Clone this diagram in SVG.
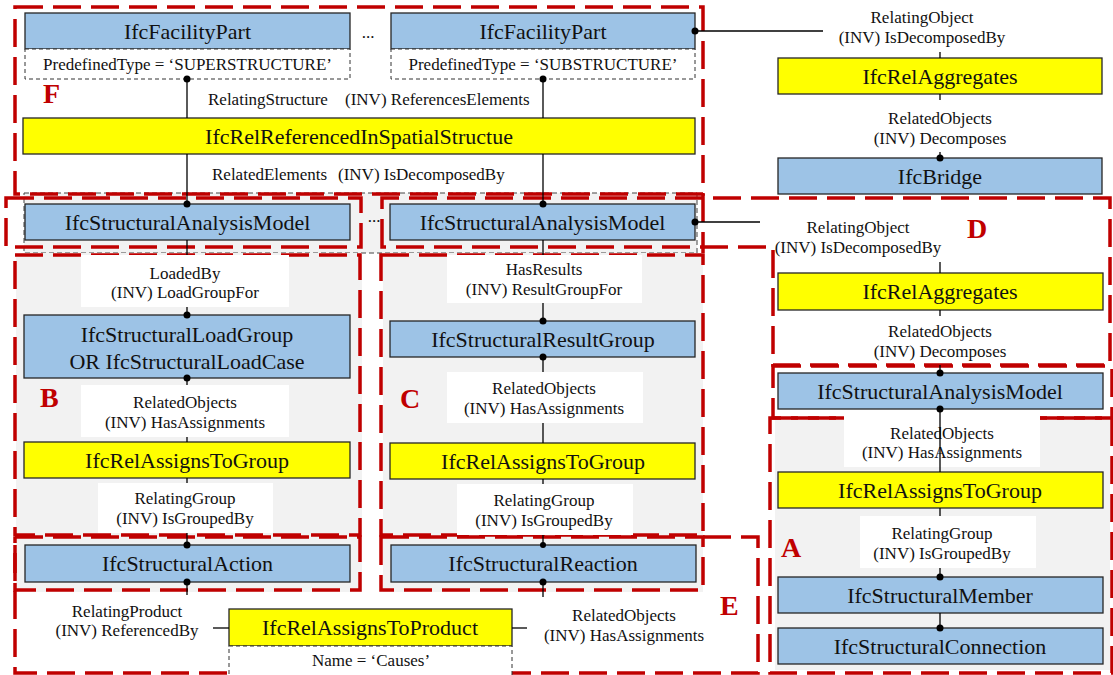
<svg xmlns="http://www.w3.org/2000/svg" width="1113" height="675" viewBox="0 0 1113 675">
  <style>
    text { font-family: "Liberation Serif", "Times New Roman", serif; fill: #111; }
    .t { font-size: 22px; text-anchor: middle; }
    .s { font-size: 17px; text-anchor: middle; }
    .sl { font-size: 17px; }
    .box { stroke: #262626; stroke-width: 1.3; }
    .blue { fill: #9DC3E6; }
    .yel { fill: #FFFF00; }
    .attr { fill: #fff; stroke: #333; stroke-width: 1; stroke-dasharray: 4 3; }
    .bg { fill: #F2F2F2; }
    .grp { fill: #F2F2F2; stroke: #444; stroke-width: 1; stroke-dasharray: 5 3; }
    .region { fill: none; stroke: #C00000; stroke-width: 3.5; stroke-dasharray: 28 10; }
    .tag { font-size: 28px; font-weight: bold; fill: #C00000; }
    .ln { stroke: #000; stroke-width: 1.3; fill: none; }
    .lab { fill: #fff; }
    .dot { fill: #000; }
  </style>

  <!-- shaded group backgrounds -->
  <g id="backgrounds">
    <rect class="grp" x="24" y="193" width="673" height="60"/>
    <rect class="bg" x="16" y="253" width="346" height="339"/>
    <rect class="bg" x="383" y="253" width="320" height="339"/>
    <rect class="bg" x="775" y="418" width="335" height="252"/>
  </g>

  <!-- dashed region frames -->
  <g id="regions">
    <rect class="region" x="15" y="7" width="688" height="187"/>
    <line class="region" x1="703" y1="194" x2="703" y2="253"/>
    <rect class="region" x="6" y="198" width="355" height="49"/>
    <path class="region" d="M382,247 V198 H1110 V365 H773 V247 Z"/>
    <rect class="region" x="15" y="255" width="345" height="280"/>
    <rect class="region" x="381" y="255" width="322" height="280"/>
    <rect class="region" x="15" y="537" width="345" height="53"/>
    <rect class="region" x="381" y="537" width="322" height="53"/>
    <path class="region" d="M703,537 H758 V673 H15 V537"/>
    <rect class="region" x="773" y="366" width="339" height="52"/>
    <rect class="region" x="770" y="418" width="342" height="255"/>
    <text class="tag" x="43" y="103">F</text>
    <text class="tag" x="40" y="407">B</text>
    <text class="tag" x="400" y="408">C</text>
    <text class="tag" x="967" y="238">D</text>
    <text class="tag" x="720" y="615">E</text>
    <text class="tag" x="781" y="557">A</text>
  </g>

  <!-- entity and relationship nodes -->
  <g id="facilityPartSuper">
    <rect class="box blue" x="25" y="13" width="325" height="36"/>
    <text class="t" x="187.5" y="39">IfcFacilityPart</text>
    <rect class="attr" x="25" y="49" width="325" height="30"/>
    <text class="s" x="187.5" y="70">PredefinedType = ‘SUPERSTRUCTURE’</text>
  </g>
  <text class="s" x="368" y="38">...</text>
  <g id="facilityPartSub">
    <rect class="box blue" x="391" y="13" width="304" height="36"/>
    <text class="t" x="543" y="39">IfcFacilityPart</text>
    <rect class="attr" x="391" y="49" width="304" height="30"/>
    <text class="s" x="543" y="70">PredefinedType = ‘SUBSTRUCTURE’</text>
  </g>
  <g id="relReferenced">
    <rect class="box yel" x="23" y="118" width="672" height="36"/>
    <text class="t" x="359" y="144">IfcRelReferencedInSpatialStructue</text>
  </g>
  <g id="analysisModelLeft">
    <rect class="box blue" x="25" y="204" width="325" height="36"/>
    <text class="t" x="187.5" y="230">IfcStructuralAnalysisModel</text>
  </g>
  <text class="s" x="374" y="222">...</text>
  <g id="analysisModelRight">
    <rect class="box blue" x="390" y="204" width="305" height="36"/>
    <text class="t" x="542.5" y="230">IfcStructuralAnalysisModel</text>
  </g>
  <g id="relAggregatesTop">
    <rect class="box yel" x="778" y="58" width="324" height="36"/>
    <text class="t" x="940" y="84">IfcRelAggregates</text>
  </g>
  <g id="bridge">
    <rect class="box blue" x="778" y="158" width="324" height="36"/>
    <text class="t" x="940" y="184">IfcBridge</text>
  </g>
  <g id="relAggregatesD">
    <rect class="box yel" x="778" y="273" width="325" height="37"/>
    <text class="t" x="940" y="299">IfcRelAggregates</text>
  </g>
  <g id="analysisModelA">
    <rect class="box blue" x="778" y="373" width="325" height="36"/>
    <text class="t" x="940" y="399">IfcStructuralAnalysisModel</text>
  </g>
  <g id="relGroupA">
    <rect class="box yel" x="778" y="472" width="325" height="36"/>
    <text class="t" x="940" y="498">IfcRelAssignsToGroup</text>
  </g>
  <g id="structuralMember">
    <rect class="box blue" x="778" y="577" width="325" height="36"/>
    <text class="t" x="940" y="603">IfcStructuralMember</text>
  </g>
  <g id="structuralConnection">
    <rect class="box blue" x="778" y="628" width="325" height="36"/>
    <text class="t" x="940" y="654">IfcStructuralConnection</text>
  </g>
  <g id="loadGroup">
    <rect class="box blue" x="24" y="315" width="326" height="63"/>
    <text class="t" x="187" y="342">IfcStructuralLoadGroup</text>
    <text class="t" x="187" y="369">OR IfcStructuralLoadCase</text>
  </g>
  <g id="relGroupB">
    <rect class="box yel" x="24" y="442" width="326" height="36"/>
    <text class="t" x="187" y="468">IfcRelAssignsToGroup</text>
  </g>
  <g id="structuralAction">
    <rect class="box blue" x="25" y="545" width="325" height="37"/>
    <text class="t" x="187.5" y="571">IfcStructuralAction</text>
  </g>
  <g id="resultGroup">
    <rect class="box blue" x="390" y="321" width="305" height="36"/>
    <text class="t" x="543" y="347">IfcStructuralResultGroup</text>
  </g>
  <g id="relGroupC">
    <rect class="box yel" x="390" y="443" width="305" height="36"/>
    <text class="t" x="543" y="469">IfcRelAssignsToGroup</text>
  </g>
  <g id="structuralReaction">
    <rect class="box blue" x="391" y="545" width="305" height="37"/>
    <text class="t" x="543" y="571">IfcStructuralReaction</text>
  </g>
  <g id="relAssignsToProduct">
    <rect class="box yel" x="229" y="609" width="283" height="37"/>
    <text class="t" x="370" y="635">IfcRelAssignsToProduct</text>
    <rect class="attr" x="229" y="646" width="283" height="32"/>
    <text class="s" x="371" y="666">Name = ‘Causes’</text>
  </g>

  <!-- relationship connectors with their attribute labels -->
  <g id="connectors">
    <!-- F: spatial structure reference -->
    <line class="ln" x1="187" y1="79" x2="187" y2="118"/>
    <line class="ln" x1="187" y1="154" x2="187" y2="204"/>
    <line class="ln" x1="543" y1="79" x2="543" y2="118"/>
    <line class="ln" x1="543" y1="154" x2="543" y2="204"/>
    <text class="sl" x="208" y="105">RelatingStructure</text>
    <text class="sl" x="345" y="105">(INV) ReferencesElements</text>
    <text class="sl" x="212" y="180">RelatedElements</text>
    <text class="sl" x="338" y="180">(INV) IsDecomposedBy</text>

    <!-- bridge decomposition -->
    <line class="ln" x1="695" y1="31" x2="823" y2="31"/>
    <line class="ln" x1="940" y1="52" x2="940" y2="58"/>
    <line class="ln" x1="940" y1="94" x2="940" y2="100"/>
    <line class="ln" x1="940" y1="152" x2="940" y2="158"/>
    <text class="s" x="922" y="23">RelatingObject</text>
    <text class="s" x="922" y="43">(INV) IsDecomposedBy</text>
    <text class="s" x="940" y="124">RelatedObjects</text>
    <text class="s" x="940" y="144">(INV) Decomposes</text>

    <!-- D: analysis model decomposition -->
    <line class="ln" x1="695" y1="222" x2="760" y2="222"/>
    <line class="ln" x1="940" y1="262" x2="940" y2="273"/>
    <line class="ln" x1="940" y1="310" x2="940" y2="316"/>
    <line class="ln" x1="940" y1="365" x2="940" y2="373"/>
    <text class="s" x="858" y="233">RelatingObject</text>
    <text class="s" x="858" y="253">(INV) IsDecomposedBy</text>
    <text class="s" x="940" y="337">RelatedObjects</text>
    <text class="s" x="940" y="357">(INV) Decomposes</text>

    <!-- A: member grouping -->
    <rect class="lab" x="844" y="415" width="196" height="52"/>
    <rect class="lab" x="860" y="516" width="176" height="52"/>
    <text class="s" x="942" y="439">RelatedObjects</text>
    <text class="s" x="942" y="458">(INV) HasAssignments</text>
    <line class="ln" x1="940" y1="409" x2="940" y2="472"/>
    <line class="ln" x1="940" y1="508" x2="940" y2="516"/>
    <line class="ln" x1="940" y1="568" x2="940" y2="577"/>
    <line class="ln" x1="940" y1="613" x2="940" y2="628"/>
    <text class="s" x="942" y="539">RelatingGroup</text>
    <text class="s" x="942" y="559">(INV) IsGroupedBy</text>

    <!-- B: load groups -->
    <line class="ln" x1="187" y1="240" x2="187" y2="315"/>
    <line class="ln" x1="187" y1="378" x2="187" y2="442"/>
    <line class="ln" x1="187" y1="478" x2="187" y2="545"/>
    <line class="ln" x1="187" y1="582" x2="187" y2="595"/>
    <rect class="lab" x="81" y="255" width="208" height="52"/>
    <text class="s" x="185" y="279">LoadedBy</text>
    <text class="s" x="185" y="298">(INV) LoadGroupFor</text>
    <rect class="lab" x="81" y="385" width="208" height="52"/>
    <text class="s" x="185" y="408">RelatedObjects</text>
    <text class="s" x="185" y="428">(INV) HasAssignments</text>
    <rect class="lab" x="98" y="483" width="175" height="50"/>
    <text class="s" x="185" y="504">RelatingGroup</text>
    <text class="s" x="185" y="524">(INV) IsGroupedBy</text>

    <!-- C: result groups -->
    <line class="ln" x1="543" y1="240" x2="543" y2="321"/>
    <line class="ln" x1="543" y1="357" x2="543" y2="443"/>
    <line class="ln" x1="543" y1="479" x2="543" y2="545"/>
    <line class="ln" x1="543" y1="582" x2="543" y2="597"/>
    <rect class="lab" x="447" y="255" width="195" height="48"/>
    <text class="s" x="544" y="275">HasResults</text>
    <text class="s" x="544" y="295">(INV) ResultGroupFor</text>
    <rect class="lab" x="447" y="372" width="196" height="51"/>
    <text class="s" x="544" y="394">RelatedObjects</text>
    <text class="s" x="544" y="414">(INV) HasAssignments</text>
    <rect class="lab" x="457" y="484" width="176" height="51"/>
    <text class="s" x="544" y="506">RelatingGroup</text>
    <text class="s" x="544" y="526">(INV) IsGroupedBy</text>

    <!-- E: action / reaction product assignment -->
    <line class="ln" x1="213" y1="628" x2="229" y2="628"/>
    <line class="ln" x1="512" y1="628" x2="527" y2="628"/>
    <text class="s" x="127" y="617">RelatingProduct</text>
    <text class="s" x="127" y="636">(INV) ReferencedBy</text>
    <text class="s" x="624" y="621">RelatedObjects</text>
    <text class="s" x="624" y="641">(INV) HasAssignments</text>

    <!-- attachment points -->
    <g class="dot">
      <circle cx="187" cy="79" r="3.5"/>
      <circle cx="543" cy="79" r="3.5"/>
      <circle cx="187" cy="204" r="3.5"/>
      <circle cx="543" cy="204" r="3.5"/>
      <circle cx="695" cy="31" r="3.5"/>
      <circle cx="940" cy="158" r="3.5"/>
      <circle cx="695" cy="222" r="3.5"/>
      <circle cx="940" cy="373" r="3.5"/>
      <circle cx="940" cy="409" r="3.5"/>
      <circle cx="940" cy="577" r="3.5"/>
      <circle cx="940" cy="628" r="3.5"/>
      <circle cx="187" cy="315" r="3.5"/>
      <circle cx="187" cy="378" r="3.5"/>
      <circle cx="187" cy="545" r="3.5"/>
      <circle cx="187" cy="582" r="3.5"/>
      <circle cx="543" cy="321" r="3.5"/>
      <circle cx="543" cy="357" r="3.5"/>
      <circle cx="543" cy="545" r="3"/>
      <circle cx="543" cy="582" r="3.5"/>
    </g>
  </g>
</svg>
